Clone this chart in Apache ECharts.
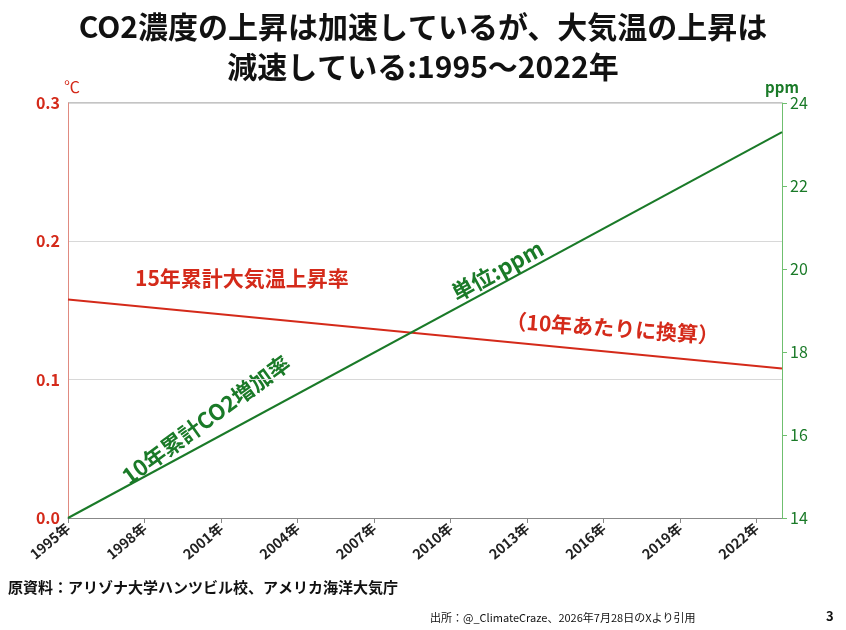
<!DOCTYPE html>
<html><head><meta charset="utf-8">
<script src="https://cdn.jsdelivr.net/npm/echarts@6/dist/echarts.min.js"></script>
<style>body{margin:0}#c{width:846px;height:630px}</style></head>
<body><div id="c"></div>
<script>
var years = [1995, 2023];
var tempRate = [0.158, 0.108];
var co2Rate = [14.0, 23.3];
var RED = '#d42a1a', GREEN = '#1a7a28';
var font = '"Noto Sans CJK JP", sans-serif';

var chart = echarts.init(document.getElementById('c'));
chart.setOption({
    animation: false,
    textStyle: {fontFamily: font},
    title: {
        text: 'CO2濃度の上昇は加速しているが、大気温の上昇は\n減速している:1995〜2022年',
        left: 'center', top: 2,
        textStyle: {fontSize: 30, fontWeight: 'bold', color: '#111', lineHeight: 40, fontFamily: font}
    },
    grid: {left: 68, right: 64, top: 103, bottom: 112},
    xAxis: {
        type: 'value', min: 1995, max: 2023, interval: 3,
        splitLine: {show: false},
        axisLine: {lineStyle: {color: '#888'}},
        axisTick: {show: true, lineStyle: {color: '#888'}},
        axisLabel: {
            showMaxLabel: false, rotate: 40, fontWeight: 'bold', fontSize: 14, color: '#222',
            formatter: function (v) { return v + '年'; }
        }
    },
    yAxis: [{
        type: 'value', min: 0, max: 0.3, interval: 0.1,
        name: '℃', nameGap: 4, nameTextStyle: {color: RED, fontSize: 16, align: 'left', padding: [0, 0, 0, -4]},
        axisLine: {show: true, lineStyle: {color: '#e08a80'}},
        axisTick: {show: false},
        axisLabel: {color: RED, fontWeight: 'bold', fontSize: 16, formatter: function (v) { return v.toFixed(1); }},
        splitLine: {lineStyle: {color: '#d8d8d8'}}
    }, {
        type: 'value', min: 14, max: 24, interval: 2,
        name: 'ppm', nameGap: 4, nameTextStyle: {color: GREEN, fontSize: 15, fontWeight: 'bold'},
        axisLine: {show: true, lineStyle: {color: '#6fbf6f'}},
        axisTick: {show: true, lineStyle: {color: '#6fbf6f'}},
        axisLabel: {color: GREEN, fontSize: 16},
        splitLine: {show: false}
    }],
    series: [{
        type: 'line', yAxisIndex: 0, symbol: 'none',
        lineStyle: {color: RED, width: 2},
        data: years.map(function (y, i) { return [y, tempRate[i]]; })
    }, {
        type: 'line', yAxisIndex: 1, symbol: 'none',
        lineStyle: {color: GREEN, width: 2},
        data: years.map(function (y, i) { return [y, co2Rate[i]]; })
    }],
    graphic: [
        {type: 'line', shape: {x1: 68, y1: 103, x2: 782, y2: 103}, style: {stroke: '#888', lineWidth: 1}},
        {type: 'text', left: 135, top: 268, style: {text: '15年累計大気温上昇率', fill: RED, font: 'bold 21px ' + font}},
        {type: 'text', left: 505, top: 310, rotation: -0.07, style: {text: '（10年あたりに換算）', fill: RED, font: 'bold 21px ' + font}},
        {type: 'text', x: 118, y: 470, rotation: 0.63, style: {text: '10年累計CO2増加率', fill: GREEN, font: 'bold 22px ' + font, verticalAlign: 'top'}},
        {type: 'text', x: 448, y: 285, rotation: 0.5, style: {text: '単位:ppm', fill: GREEN, font: 'bold 22px ' + font, verticalAlign: 'top'}},
        {type: 'text', left: 8, top: 580, style: {text: '原資料：アリゾナ大学ハンツビル校、アメリカ海洋大気庁', fill: '#111', font: 'bold 15px ' + font}},
        {type: 'text', left: 430, top: 612, style: {text: '出所：@_ClimateCraze、2026年7月28日のXより引用', fill: '#111', font: '11px ' + font}},
        {type: 'text', left: 826, top: 610, style: {text: '3', fill: '#111', font: 'bold 13px ' + font}}
    ]
});
</script></body></html>
